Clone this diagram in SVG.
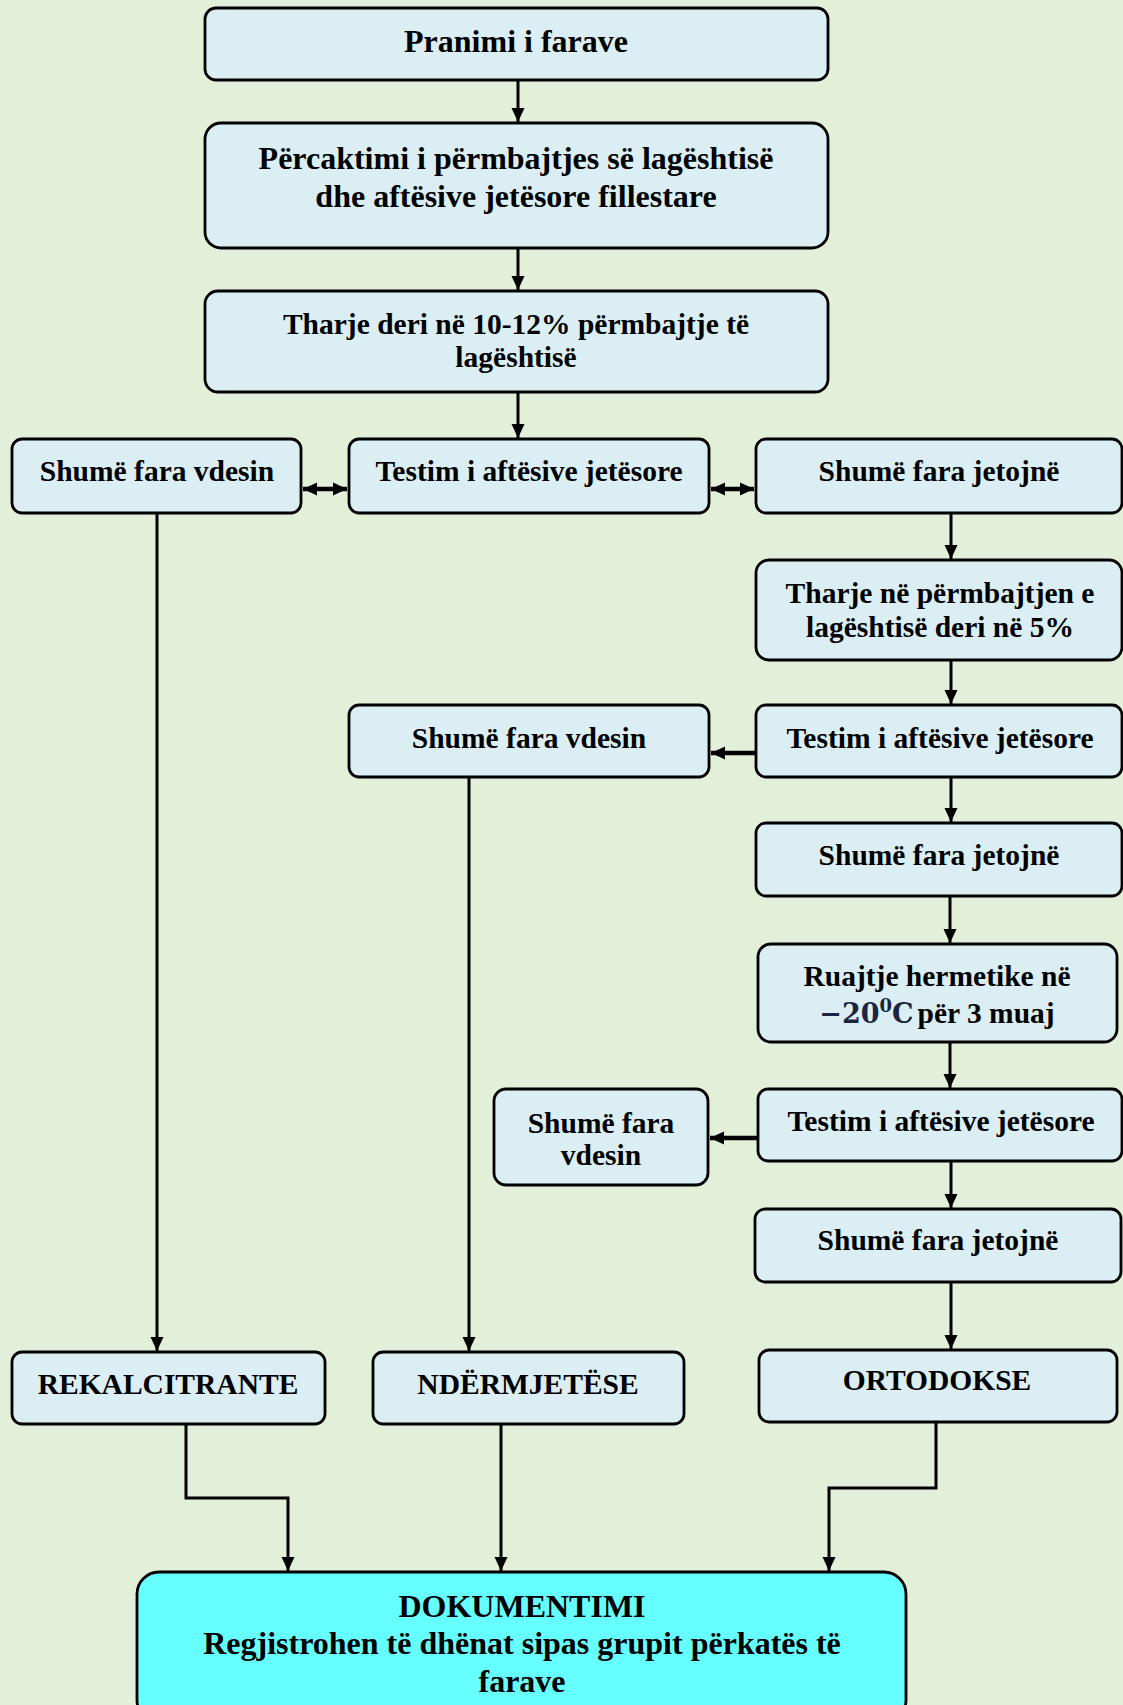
<svg xmlns="http://www.w3.org/2000/svg" width="1123" height="1705" viewBox="0 0 1123 1705">
<defs>
<marker id="ah" markerWidth="14" markerHeight="14" refX="14" refY="7" orient="auto" markerUnits="userSpaceOnUse" viewBox="0 0 14 14">
<path d="M0,0.5 L14,7 L0,13.5 Z" fill="#000"/>
</marker>
<marker id="ahb" markerWidth="14" markerHeight="14" refX="14" refY="7" orient="auto-start-reverse" markerUnits="userSpaceOnUse" viewBox="0 0 14 14">
<path d="M0,0.5 L14,7 L0,13.5 Z" fill="#000"/>
</marker>
<style>
.n rect{fill:#DAEEF3;stroke:#000;stroke-width:2.8}
.d rect{fill:#66FFFF;stroke:#000;stroke-width:2.8}
text{font-family:"Liberation Serif","Times New Roman",serif;font-weight:bold;font-size:29.5px;fill:#000;text-anchor:middle}
text.L{font-size:32px}
.m{font-family:"DejaVu Serif",serif;fill:#1c2540}
.c path{fill:none;stroke:#000;stroke-width:3}
.c .h{stroke-width:4.5}
</style>
</defs>
<rect x="0" y="0" width="1123" height="1705" fill="#E2EFD9"/>

<g class="c" id="connectors">
<path d="M518,81 V122" marker-end="url(#ah)"/>
<path d="M518,248 V290" marker-end="url(#ah)"/>
<path d="M518,392 V438" marker-end="url(#ah)"/>
<path class="h" d="M303,489 H347" marker-start="url(#ahb)" marker-end="url(#ahb)"/>
<path class="h" d="M711,489 H754" marker-start="url(#ahb)" marker-end="url(#ahb)"/>
<path d="M951,513 V559" marker-end="url(#ah)"/>
<path d="M951,660 V704" marker-end="url(#ah)"/>
<path class="h" d="M756,753 H711" marker-end="url(#ahb)"/>
<path d="M951,777 V822" marker-end="url(#ah)"/>
<path d="M950,896 V943" marker-end="url(#ah)"/>
<path d="M950,1042 V1088" marker-end="url(#ah)"/>
<path class="h" d="M758,1138 H710" marker-end="url(#ahb)"/>
<path d="M951,1161 V1208" marker-end="url(#ah)"/>
<path d="M951,1282 V1349" marker-end="url(#ah)"/>
<path d="M157,513 V1351" marker-end="url(#ah)"/>
<path d="M469,777 V1351" marker-end="url(#ah)"/>
<path d="M186,1424 V1498 H288 V1571" marker-end="url(#ah)"/>
<path d="M501,1424 V1571" marker-end="url(#ah)"/>
<path d="M936,1404 V1488 H829 V1571" marker-end="url(#ah)"/>
</g>

<g class="n" id="n1"><rect x="205" y="8" width="623" height="72" rx="11"/><text class="L" x="516" y="52">Pranimi i farave</text></g>
<g class="n" id="n2"><rect x="205" y="123" width="623" height="125" rx="16"/><text class="L" x="516" y="169">Përcaktimi i përmbajtjes së lagështisë</text><text class="L" x="516" y="207">dhe aftësive jetësore fillestare</text></g>
<g class="n" id="n3"><rect x="205" y="291" width="623" height="101" rx="13"/><text x="516" y="334">Tharje deri në 10-12% përmbajtje të</text><text x="516" y="367">lagështisë</text></g>
<g class="n" id="n4"><rect x="12" y="439" width="289" height="74" rx="10"/><text x="157" y="481">Shumë fara vdesin</text></g>
<g class="n" id="n5"><rect x="349" y="439" width="360" height="74" rx="10"/><text x="529" y="481">Testim i aftësive jetësore</text></g>
<g class="n" id="n6"><rect x="756" y="439" width="366" height="74" rx="10"/><text x="939" y="481">Shumë fara jetojnë</text></g>
<g class="n" id="n7"><rect x="756" y="560" width="366" height="100" rx="13"/><text x="940" y="603">Tharje në përmbajtjen e</text><text x="940" y="637">lagështisë deri në 5%</text></g>
<g class="n" id="n8"><rect x="756" y="705" width="366" height="72" rx="10"/><text x="940" y="748">Testim i aftësive jetësore</text></g>
<g class="n" id="n9"><rect x="349" y="705" width="360" height="72" rx="10"/><text x="529" y="748">Shumë fara vdesin</text></g>
<g class="n" id="n10"><rect x="756" y="823" width="366" height="73" rx="10"/><text x="939" y="865">Shumë fara jetojnë</text></g>
<g class="n" id="n11"><rect x="758" y="944" width="359" height="98" rx="13"/><text x="937" y="986">Ruajtje hermetike në</text><text x="937" y="1023"><tspan class="m" font-size="27">−20</tspan><tspan class="m" font-size="18" dy="-11">0</tspan><tspan class="m" font-size="27" dy="11">C</tspan><tspan dx="4">për 3 muaj</tspan></text></g>
<g class="n" id="n12"><rect x="758" y="1089" width="364" height="72" rx="10"/><text x="941" y="1131">Testim i aftësive jetësore</text></g>
<g class="n" id="n13"><rect x="494" y="1089" width="214" height="96" rx="12"/><text x="601" y="1133">Shumë fara</text><text x="601" y="1165">vdesin</text></g>
<g class="n" id="n14"><rect x="755" y="1209" width="366" height="73" rx="10"/><text x="938" y="1250">Shumë fara jetojnë</text></g>
<g class="n" id="n15"><rect x="12" y="1352" width="313" height="72" rx="10"/><text x="168" y="1394">REKALCITRANTE</text></g>
<g class="n" id="n16"><rect x="373" y="1352" width="311" height="72" rx="10"/><text x="528" y="1394">NDËRMJETËSE</text></g>
<g class="n" id="n17"><rect x="759" y="1350" width="358" height="72" rx="10"/><text x="937" y="1390">ORTODOKSE</text></g>
<g class="d" id="n18"><rect x="137" y="1572" width="769" height="150" rx="22"/><text class="L" x="522" y="1617">DOKUMENTIMI</text><text class="L" x="522" y="1654">Regjistrohen të dhënat sipas grupit përkatës të</text><text class="L" x="522" y="1692">farave</text></g>
</svg>
